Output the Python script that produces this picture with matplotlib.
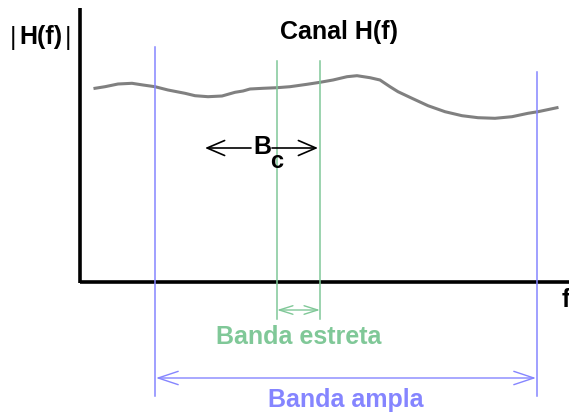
import matplotlib.pyplot as plt

# channel response |H(f)| (pixel-like coordinates of the diagram, y grows downward)
curve_x = [95, 105, 118, 132, 143, 155, 168, 185, 195, 208, 222, 235, 243, 250, 263, 277,
           290, 307, 320, 333, 347, 357, 370, 380, 390, 398, 412, 428, 445, 462, 478, 495,
           512, 528, 538, 557]
curve_y = [88.3, 86.7, 84, 83.3, 85, 86.7, 90, 93.3, 95.7, 96.7, 96, 92.3, 91, 89, 88.3, 87.7,
           86.7, 84.3, 82.3, 80, 76.7, 75.7, 77.7, 80, 86.7, 91.7, 98.3, 105.7, 111.7, 115.7, 117.7, 118.3,
           116.7, 113.3, 111.7, 107.7]

wide_band = [155, 537]      # Banda ampla
narrow_band = [277, 320]    # Banda estreta
bc_span = [205, 318]

blue = '#8585ff'
green = '#80c898'

plt.rcParams['font.family'] = ['Liberation Sans', 'DejaVu Sans']
fig = plt.figure(figsize=(5.69, 4.16), dpi=100)
ax = fig.add_axes([0, 0, 1, 1])
ax.set_xlim(0, 569)
ax.set_ylim(416, 0)
ax.axis('off')

# axes of the diagram
ax.plot([80, 80], [8, 283], color='black', lw=2.6, solid_capstyle='butt')
ax.plot([80, 569], [282, 282], color='black', lw=2.6, solid_capstyle='butt')

ax.plot(curve_x, curve_y, color='#808080', lw=2.2, solid_joinstyle='round')

# band limits
ax.plot([wide_band[0]] * 2, [47, 396], color=blue, lw=1.1)
ax.plot([wide_band[1]] * 2, [72, 396], color=blue, lw=1.1)
for xv in narrow_band:
    ax.plot([xv, xv], [61, 319], color=green, lw=1.1)

ax.annotate('', xy=(narrow_band[0], 310), xytext=(narrow_band[1], 310),
            arrowprops=dict(arrowstyle='<->,head_length=0.7,head_width=0.22', color=green, lw=1,
                            mutation_scale=14, shrinkA=0, shrinkB=0))
ax.annotate('', xy=(wide_band[0] + 1, 378), xytext=(wide_band[1] - 1, 378),
            arrowprops=dict(arrowstyle='<->,head_length=0.9,head_width=0.3', color=blue, lw=1,
                            mutation_scale=16, shrinkA=0, shrinkB=0))

# coherence bandwidth
ax.annotate('', xy=(bc_span[0], 148), xytext=(251, 148),
            arrowprops=dict(arrowstyle='->,head_length=0.7,head_width=0.3', color='black', lw=1.2,
                            mutation_scale=18, shrinkA=0, shrinkB=0))
ax.annotate('', xy=(bc_span[1], 148), xytext=(272, 148),
            arrowprops=dict(arrowstyle='->,head_length=0.7,head_width=0.3', color='black', lw=1.2,
                            mutation_scale=18, shrinkA=0, shrinkB=0))
ax.text(262, 147, 'B', fontsize=18, fontweight='bold', ha='center', va='center')
ax.text(277, 162, 'c', fontsize=17, fontweight='bold', ha='center', va='center')

ax.text(13, 38, '|', fontsize=18, ha='center', va='center')
ax.text(41, 37, 'H(f)', fontsize=18, fontweight='bold', ha='center', va='center')
ax.text(68, 38, '|', fontsize=18, ha='center', va='center')
ax.text(339, 32, 'Canal H(f)', fontsize=18, fontweight='bold', ha='center', va='center')
ax.text(566, 300, 'f', fontsize=18, fontweight='bold', ha='center', va='center')
ax.text(299, 337, 'Banda estreta', fontsize=18, fontweight='bold', color=green, ha='center', va='center')
ax.text(346, 400, 'Banda ampla', fontsize=18, fontweight='bold', color=blue, ha='center', va='center')

plt.savefig('out.png', dpi=100)
